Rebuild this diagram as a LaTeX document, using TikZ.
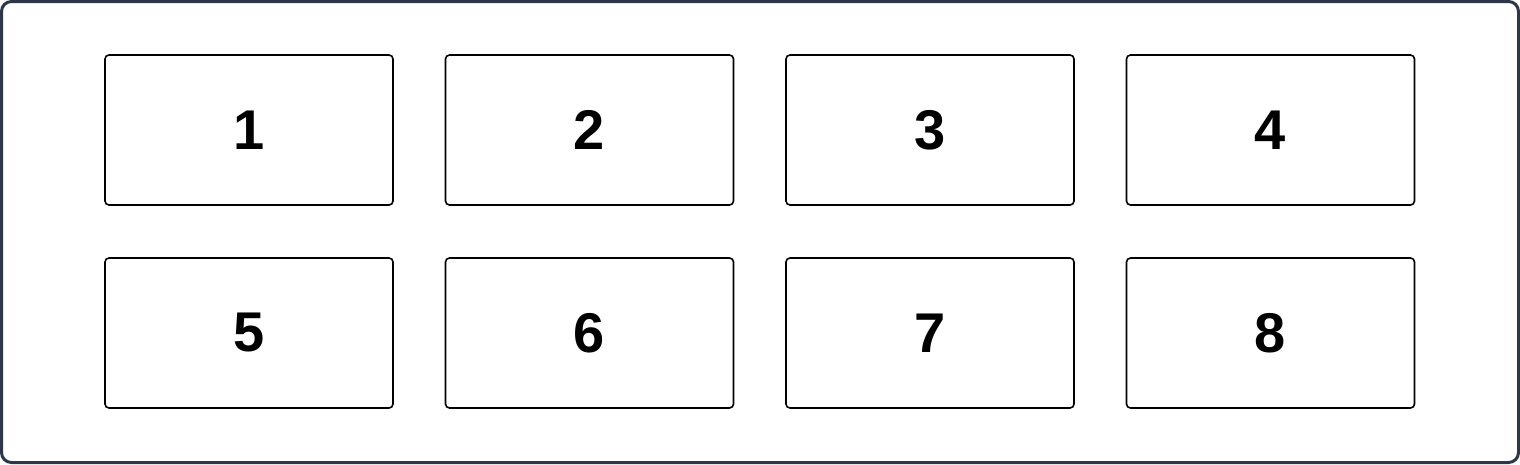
\documentclass[tikz,border=0pt]{standalone}
\usepackage{fontspec}
\setmainfont{Liberation Sans}
\usetikzlibrary{positioning}
\definecolor{frame}{HTML}{2D3748}

\begin{document}
\begin{tikzpicture}
[x=1pt, y=-1pt,
 cell/.style={draw=black, line width=1.6pt, rounded corners=4pt, fill=white,
   minimum width=288pt, minimum height=150pt, inner sep=0pt,
   font=\fontsize{56}{60}\selectfont\bfseries}]
\useasboundingbox (0,0) rectangle (1520,464);
\draw[frame, line width=3pt, rounded corners=10pt] (1.5,1.5) rectangle (1518.5,462.5);
\def\ra{130}
\def\rb{333}
\node[cell] (c1) at (249,\ra) {1};
\node[cell] (c2) at (589.5,\ra) {2};
\node[cell] (c3) at (930,\ra) {3};
\node[cell] (c4) at (1270.5,\ra) {4};
\node[cell] (c5) at (249,\rb) {5};
\node[cell] (c6) at (589.5,\rb) {6};
\node[cell] (c7) at (930,\rb) {7};
\node[cell] (c8) at (1270.5,\rb) {8};
\end{tikzpicture}
\end{document}
